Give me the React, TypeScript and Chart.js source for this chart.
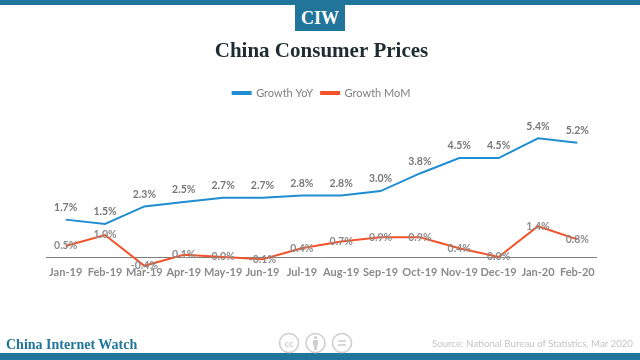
import React, { useEffect, useRef } from "react";
import { Chart, registerables } from "chart.js";

Chart.register(...registerables);

const categories = ["Jan-19", "Feb-19", "Mar-19", "Apr-19", "May-19", "Jun-19", "Jul-19", "Aug-19", "Sep-19", "Oct-19", "Nov-19", "Dec-19", "Jan-20", "Feb-20"];
const growthYoY = [1.7, 1.5, 2.3, 2.5, 2.7, 2.7, 2.8, 2.8, 3.0, 3.8, 4.5, 4.5, 5.4, 5.2];
const growthMoM = [0.5, 1.0, -0.4, 0.1, 0.0, -0.1, 0.4, 0.7, 0.9, 0.9, 0.4, 0.0, 1.4, 0.8];

const TEAL = "#21759b";
const SLAB = '"Liberation Serif", serif';

const valueLabels = {
  id: "valueLabels",
  afterDatasetsDraw(chart: any) {
    const { ctx } = chart;
    ctx.save();
    ctx.font = 'bold 10.5px Lato';
    ctx.textAlign = "center";
    ctx.textBaseline = "middle";
    chart.data.datasets.forEach((ds: any, i: number) => {
      const meta = chart.getDatasetMeta(i);
      ctx.fillStyle = i === 0 ? "#787878" : "#8c8c8c";
      meta.data.forEach((pt: any, j: number) => {
        const txt = ds.data[j].toFixed(1) + "%";
        const dy = i === 0 ? -12 : 0;
        ctx.fillText(txt, pt.x, pt.y + dy);
      });
    });
    ctx.restore();
  },
};

export default function App() {
  const ref = useRef<HTMLCanvasElement>(null);
  useEffect(() => {
    document.body.style.margin = "0";
    const chart = new Chart(ref.current!, {
      type: "line",
      data: {
        labels: categories,
        datasets: [
          { label: "Growth YoY", data: growthYoY, borderColor: "#1f8dd0", backgroundColor: "#1f8dd0", borderWidth: 2, pointRadius: 0, tension: 0, clip: false },
          { label: "Growth MoM", data: growthMoM, borderColor: "#f4532a", backgroundColor: "#f4532a", borderWidth: 2, pointRadius: 0, tension: 0, clip: false },
        ],
      },
      options: {
        responsive: false,
        animation: false,
        layout: { padding: { left: 46, right: 43, top: 0, bottom: 81 } },
        plugins: {
          title: {
            display: true,
            text: "China Consumer Prices",
            color: "#1f2d33",
            font: { family: SLAB, size: 21, weight: "bold" },
            padding: { top: 39, bottom: 15.4 },
          },
          legend: {
            display: true,
            position: "top",
            labels: { boxWidth: 18, boxHeight: 2, padding: 8, color: "#808080", font: { family: "Lato", size: 11 } },
          },
          tooltip: { enabled: false },
        },
        scales: {
          x: {
            offset: true,
            grid: { display: false, drawTicks: false, tickLength: 0 },
            border: { display: false },
            ticks: { color: "#8a8a8a", font: { family: "Lato", size: 11, weight: "bold" }, padding: 0, maxRotation: 0, autoSkip: false },
          },
          y: {
            min: -0.4,
            max: 6.75,
            border: { display: false },
            ticks: { display: false, stepSize: 0.4 },
            grid: {
              drawTicks: false,
              color: (c: any) => (Math.abs(c.tick.value) < 1e-6 ? "#7f7f7f" : "rgba(0,0,0,0)"),
            },
          },
        },
      },
      plugins: [valueLabels],
    } as any);
    return () => chart.destroy();
  }, []);

  return (
    <div style={{ position: "relative", width: 640, height: 360, overflow: "hidden", background: "#fff" }}>
      <canvas ref={ref} width={640} height={360} style={{ position: "absolute", left: 0, top: 0 }} />
      <div style={{ position: "absolute", left: 0, top: 0, width: 640, height: 5, background: TEAL }} />
      <div style={{ position: "absolute", left: 295, top: 5, width: 50, height: 26, background: TEAL, color: "#fff", font: `bold 18px ${SLAB}`, lineHeight: "26px", textAlign: "center" }}>CIW</div>
      <div style={{ position: "absolute", left: 0, top: 353, width: 640, height: 7, background: TEAL }} />
      <div style={{ position: "absolute", left: 6, top: 337, color: TEAL, font: `bold 14px ${SLAB}`, lineHeight: "16px", whiteSpace: "nowrap" }}>China Internet Watch</div>
      <div style={{ position: "absolute", right: 7, top: 336, color: "#c4c4c4", font: "9.7px Lato", lineHeight: "14px", whiteSpace: "nowrap" }}>Source: National Bureau of Statistics, Mar 2020</div>
      <svg width={80} height={24} viewBox="0 0 80 24" style={{ position: "absolute", left: 277, top: 331 }} fill="none" stroke="#cfcfcf" strokeWidth={1.6}>
        <circle cx={12} cy={12} r={9.5} />
        <text x={12} y={15.5} textAnchor="middle" stroke="none" fill="#cfcfcf" style={{ font: "bold 9px Lato" }}>cc</text>
        <circle cx={38.5} cy={12} r={9.5} />
        <circle cx={38.5} cy={6.5} r={1.6} fill="#cfcfcf" stroke="none" />
        <rect x={36} y={9} width={5} height={5.5} fill="#cfcfcf" stroke="none" />
        <rect x={37} y={14} width={3} height={5} fill="#cfcfcf" stroke="none" />
        <circle cx={65} cy={12} r={9.5} />
        <line x1={61} y1={10} x2={69} y2={10} />
        <line x1={61} y1={14} x2={69} y2={14} />
      </svg>
    </div>
  );
}
